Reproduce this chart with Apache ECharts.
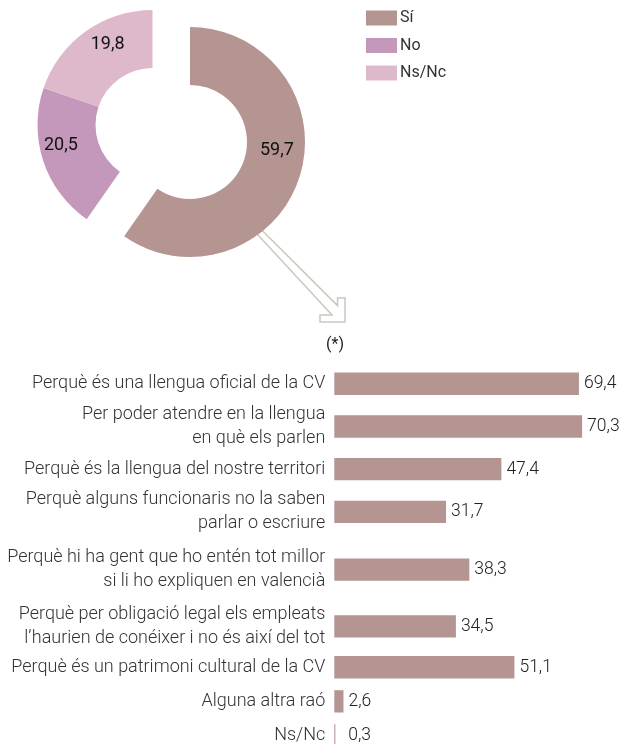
<!DOCTYPE html>
<html>
<head>
<meta charset="utf-8">
<script src="https://cdn.jsdelivr.net/npm/echarts@6/dist/echarts.min.js"></script>
<style>
  html, body { margin: 0; padding: 0; background: #fff; }
  #chart { width: 622px; height: 744px; }
</style>
</head>
<body>
<div id="chart"></div>
<script>
// Donut: answer shares
const pieNames = ['Sí', 'No', 'Ns/Nc'];
const pieValues = [59.7, 20.5, 19.8];
const pieColors = ['#b59591', '#c398bb', '#deb9cc'];

// Bars: reasons given by those who answered "Sí"
const reasons = [
  'Perquè és una llengua oficial de la CV',
  'Per poder atendre en la llengua\nen què els parlen',
  'Perquè és la llengua del nostre territori',
  'Perquè alguns funcionaris no la saben\nparlar o escriure',
  'Perquè hi ha gent que ho entén tot millor\nsi li ho expliquen en valencià',
  'Perquè per obligació legal els empleats\nl\u2019haurien de conéixer i no és així del tot',
  'Perquè és un patrimoni cultural de la CV',
  'Alguna altra raó',
  'Ns/Nc'
];
const reasonValues = [69.4, 70.3, 47.4, 31.7, 38.3, 34.5, 51.1, 2.6, 0.3];

// Bar rows are laid out in three bands with their own row pitch
const bands = [
  { from: 0, to: 4, top: 362.4, height: 170.9 },
  { from: 4, to: 6, top: 541.4, height: 113.2 },
  { from: 6, to: 9, top: 650.2, height: 102.3 }
];

const FONT = 'Roboto';
const BAR_COLOR = '#b59591';
const X_MAX = 80;
const PLOT_W = 282;
const fmt = v => String(v).replace('.', ',');

const chart = echarts.init(document.getElementById('chart'), null, { renderer: 'canvas' });

// one donut ring; `visible` picks which slices this ring paints
function ring(center, visible, labelOffsets) {
  return {
    type: 'pie',
    center: center,
    radius: [57, 115],
    startAngle: 90,
    clockwise: true,
    silent: true,
    avoidLabelOverlap: false,
    emphasis: { disabled: true },
    labelLine: { show: false },
    data: pieNames.map((n, i) => ({
      name: n,
      value: pieValues[i],
      itemStyle: { color: visible[i] ? pieColors[i] : 'rgba(0,0,0,0)' },
      label: {
        show: visible[i],
        position: 'inside',
        offset: labelOffsets[i],
        fontFamily: FONT,
        fontSize: 18,
        color: '#111',
        formatter: p => fmt(p.value)
      }
    }))
  };
}

// value labels never start closer than ~14px to the axis
const labelGap = v => Math.max(5, 14 - v * PLOT_W / X_MAX);

const grids = bands.map(b => ({
  left: 334.3, top: b.top, width: PLOT_W, height: b.height,
  containLabel: false, outerBoundsMode: 'none'
}));
const xAxes = bands.map((b, k) => ({
  type: 'value', gridIndex: k, min: 0, max: X_MAX, show: false
}));
const yAxes = bands.map((b, k) => ({
  type: 'category',
  gridIndex: k,
  data: reasons.slice(b.from, b.to),
  inverse: true,
  axisLine: { show: false },
  axisTick: { show: false },
  splitLine: { show: false },
  axisLabel: {
    margin: 9,
    fontFamily: FONT,
    fontWeight: 300,
    fontSize: 18,
    lineHeight: 24,
    color: '#333'
  }
}));
const barSeries = bands.map((b, k) => ({
  type: 'bar',
  xAxisIndex: k,
  yAxisIndex: k,
  data: reasonValues.slice(b.from, b.to).map(v => ({
    value: v,
    label: { distance: labelGap(v) }
  })),
  barWidth: 22.3,
  itemStyle: { color: BAR_COLOR },
  emphasis: { disabled: true },
  label: {
    show: true,
    position: 'right',
    distance: 5,
    fontFamily: FONT,
    fontWeight: 300,
    fontSize: 17.5,
    color: '#222',
    formatter: p => fmt(p.value)
  }
}));

chart.setOption({
  animation: false,
  backgroundColor: '#ffffff',
  textStyle: { fontFamily: FONT },
  title: {
    text: '(*)',
    left: 330,
    top: 332,
    textAlign: 'center',
    textStyle: { fontFamily: FONT, fontSize: 16, fontWeight: 'normal', color: '#222' }
  },
  legend: {
    orient: 'vertical',
    left: 366,
    top: 10,
    padding: 0,
    itemWidth: 31,
    itemHeight: 15,
    itemGap: 11.5,
    icon: 'rect',
    selectedMode: false,
    data: pieNames.map((n, i) => ({ name: n, itemStyle: { color: pieColors[i] } })),
    textStyle: { fontFamily: FONT, fontSize: 16, color: '#333', padding: [0, 0, 0, -2] }
  },
  graphic: [{
    // hollow arrow pointing from the donut down to the reasons
    type: 'polygon',
    z: 0,
    shape: {
      points: [
        [253.7, 222], [337.5, 305.6], [337.5, 298], [345, 298],
        [345, 322], [320, 322], [320, 315], [332, 315], [246, 222]
      ]
    },
    style: { fill: '#ffffff', stroke: '#c8c9bd', lineWidth: 1.5 }
  }],
  grid: grids,
  xAxis: xAxes,
  yAxis: yAxes,
  series: [
    // "Sí" slice pulled out of the ring
    ring([190, 142], [true, false, false], [[2, -18], [0, 0], [0, 0]]),
    ring([152.5, 125], [false, true, true], [[0, 0], [-7, -7], [7, -8]])
  ].concat(barSeries)
});
</script>
</body>
</html>
